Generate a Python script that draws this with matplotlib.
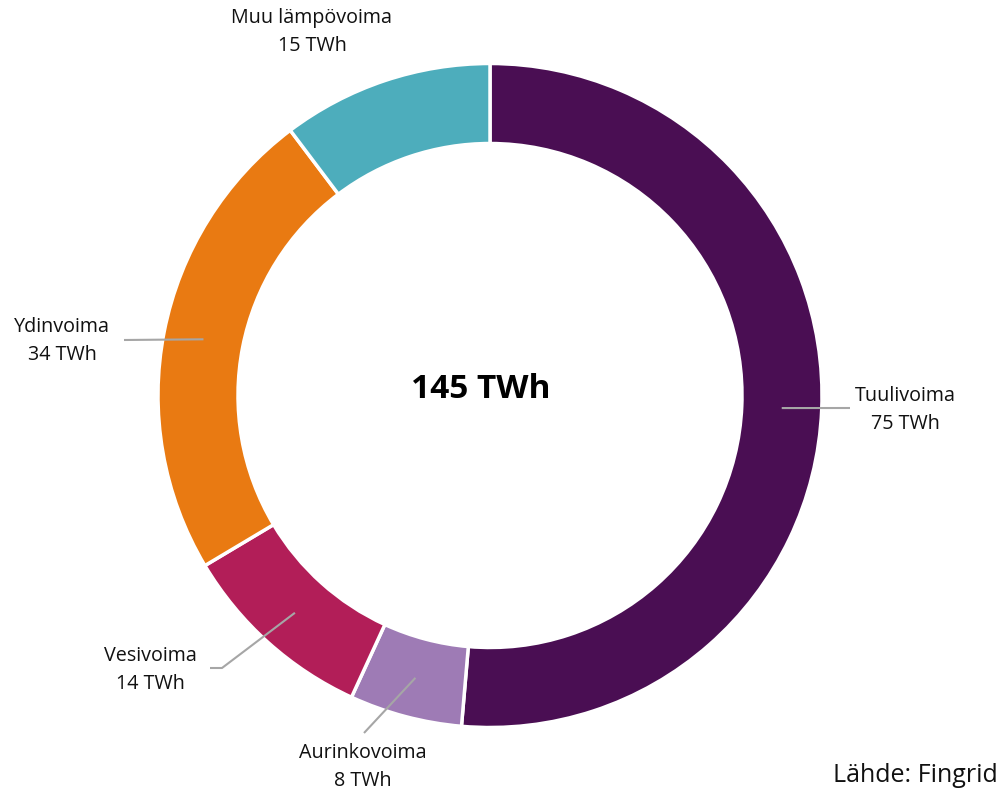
import numpy as np
import matplotlib
matplotlib.use("Agg")
import matplotlib.pyplot as plt

categories = ["Tuulivoima", "Aurinkovoima", "Vesivoima", "Ydinvoima", "Muu lämpövoima"]
values = [75, 8, 14, 34, 15]
value_labels = ["75 TWh", "8 TWh", "14 TWh", "34 TWh", "15 TWh"]
colors = ["#4A0E53", "#9E7BB5", "#B21E58", "#E97A12", "#4DADBC"]
total_label = "145 TWh"
source = "Lähde: Fingrid"

W, H = 1002, 792
plt.rcParams['font.family'] = ['Open Sans', 'DejaVu Sans']
fig = plt.figure(figsize=(W / 100, H / 100), dpi=100)
ax = fig.add_axes([0, 0, 1, 1])

cx, cy = 490, H - 395.5
R, ring = 332, 80
ax.pie(values, colors=colors, startangle=90, counterclock=False,
       radius=R, center=(cx, cy),
       wedgeprops=dict(width=ring, edgecolor="white", linewidth=2.5))
ax.set_xlim(0, W)
ax.set_ylim(0, H)
ax.set_aspect('equal')
ax.axis('off')

# label layout (pixels from top-left)
label_pos = {
    "Tuulivoima": (905, 410),
    "Aurinkovoima": (363, 767),
    "Vesivoima": (150, 670),
    "Ydinvoima": (62, 341),
    "Muu lämpövoima": (312, 32),
}
leader_end = {
    "Tuulivoima": [(850, 408)],
    "Aurinkovoima": [(364, 733)],
    "Vesivoima": [(222, 668), (210, 668)],
    "Ydinvoima": [(124, 340)],
    "Muu lämpövoima": None,
}

total = sum(values)
start = 0.0
for cat, v, vl in zip(categories, values, value_labels):
    theta = np.deg2rad(start + v / total * 180.0)
    r_mid = R - ring / 2
    x0 = cx + r_mid * np.sin(theta)
    y0 = cy + r_mid * np.cos(theta)
    pts = leader_end[cat]
    if pts:
        xs = [x0] + [p[0] for p in pts]
        ys = [y0] + [H - p[1] for p in pts]
        ax.plot(xs, ys, color="#A6A6A6", lw=1.5, solid_capstyle='butt')
    tx, ty = label_pos[cat]
    ax.text(tx, H - ty, f"{cat}\n{vl}", ha="center", va="center",
            fontsize=14.2, linespacing=1.5, color="#111111")
    start += v / total * 360.0

ax.text(481, H - 390, total_label, ha="center", va="center",
        fontsize=24, fontweight="bold", color="black")
ax.text(998, H - 776, source, ha="right", va="center", fontsize=18, color="#111111")

fig.savefig("out.png", dpi=100)
